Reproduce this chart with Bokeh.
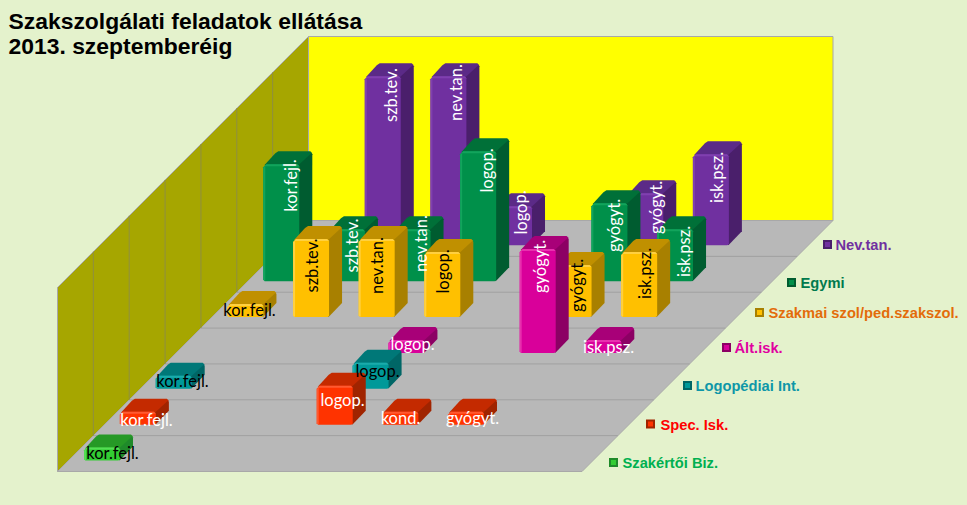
from math import pi
from bokeh.plotting import figure
from bokeh.models import Range1d, GlobalInlineStyleSheet
from bokeh.core.properties import value
from bokeh.embed import file_html
from bokeh.resources import INLINE

title_lines = ["Szakszolgálati feladatok ellátása", "2013. szeptemberéig"]
categories = ["kor.fejl.", "szb.tev.", "nev.tan.", "logop.", "kond.", "gyógyt.", "isk.psz.", ""]
series_names = ["Szakértői Biz.", "Spec. Isk.", "Logopédiai Int.", "Ált.isk.",
                "Szakmai szol/ped.szakszol.", "Egymi", "Nev.tan."]
szakertoi = [1, 0, 0, 0, 0, 0, 0, 0]
spec_isk = [1, 0, 0, 3, 1, 1, 0, 0]
logopediai = [1, 0, 0, 2, 0, 0, 0, 0]
alt_isk = [0, 0, 0, 1, 0, 8, 1, 0]
szakmai = [1, 6, 6, 5, 0, 4, 5, 0]
egymi = [9, 4, 4, 10, 0, 6, 4, 0]
nev_tan = [0, 13, 13, 3, 0, 4, 7, 0]
series_values = [szakertoi, spec_isk, logopediai, alt_isk, szakmai, egymi, nev_tan]

# styles: front, highlight, top, side, label colour, legend text colour
styles = [
    ("#33CC33", "#55DD55", "#269926", "#1F8A2A", "#000000", "#00B050"),
    ("#FF3300", "#FF5A30", "#C42A00", "#A02400", "#FFFFFF", "#FF0000"),
    ("#009999", "#1AABAB", "#007878", "#006666", "#000000", "#0E97A8"),
    ("#D9009A", "#E830AE", "#A80078", "#8C0064", "#FFFFFF", "#E000A0"),
    ("#FFC000", "#FFD040", "#C09000", "#A88000", "#000000", "#E36C0A"),
    ("#00904A", "#12A45C", "#007038", "#005C30", "#FFFFFF", "#007A4D"),
    ("#7030A0", "#8040B0", "#5B2A87", "#4A1F6B", "#FFFFFF", "#7030A0"),
]

# projection layout (oblique): pixels of the picture
OX, OY = 57.0, 471.0
FLOOR_W = 524.5
CELL = 525.0 / len(categories)
ROW = 251.0 / len(series_names)
UNIT = 13.0
WALL_H = 184.0
BAR_W, BAR_D = 36.0, 13.0
INSET_X, INSET_D = 15.5, 11.0


def project(c, r, v, dx=0.0, dd=0.0):
    """category position c, series position r, value v -> page position"""
    d = r * ROW + dd
    return OX + c * CELL + d + dx, OY - d - v * UNIT


p = figure(width=967, height=505, x_range=Range1d(0, 967), y_range=Range1d(505, 0),
           output_backend="svg", toolbar_location=None, min_border=0,
           background_fill_color="#E4F2CC", border_fill_color="#E4F2CC", outline_line_color=None,
           x_axis_type=None, y_axis_type=None)
p.grid.visible = False
p.stylesheets = [GlobalInlineStyleSheet(css="html,body{background:#E4F2CC;margin:0;overflow:hidden;}")]

depth = ROW * len(series_names)
# walls and floor
wall_xs = [[OX + depth, OX + depth + FLOOR_W, OX + depth + FLOOR_W, OX + depth],
           [OX, OX + depth, OX + depth, OX],
           [OX, OX + FLOOR_W, OX + FLOOR_W + depth, OX + depth]]
wall_ys = [[OY - depth - WALL_H, OY - depth - WALL_H, OY - depth, OY - depth],
           [OY - WALL_H, OY - depth - WALL_H, OY - depth, OY],
           [OY, OY, OY - depth, OY - depth]]
p.patches(wall_xs, wall_ys, fill_color=["#FFFF00", "#A6A600", "#B8B8B8"],
          line_color="#A8A8A8", line_width=1)
# gridlines
gx = [[OX + k * ROW, OX + FLOOR_W + k * ROW] for k in range(1, len(series_names))]
gy = [[OY - k * ROW, OY - k * ROW] for k in range(1, len(series_names))]
p.multi_line(gx, gy, line_color="#A0A0A0", line_width=1)
gx = [[OX + k * ROW, OX + k * ROW] for k in range(1, len(series_names))]
gy = [[OY - k * ROW, OY - k * ROW - WALL_H] for k in range(1, len(series_names))]
p.multi_line(gx, gy, line_color="#8F8F40", line_width=1)

# bars
fx, fy, fc = [], [], []


def add(poly, col):
    fx.append([q[0] for q in poly])
    fy.append([q[1] for q in poly])
    fc.append(col)


for r in range(len(series_names) - 1, -1, -1):
    front, light, top, side, _, _ = styles[r]
    for c, v in enumerate(series_values[r]):
        if not v:
            continue
        x0, y0 = project(c, r, 0, INSET_X, INSET_D)
        h = v * UNIT
        x1 = x0 + BAR_W
        t = y0 - h
        d = BAR_D
        add([(x0 + 1, t + 1), (x0 + d - 1, t - d + 2), (x0 + d + 2, t - d), (x1 + d - 2, t - d),
             (x1 + d, t - d + 2), (x1 + 1, t + 1)], top)
        add([(x1 - 1, t + 1), (x1 + d - 1, t - d + 2), (x1 + d, t - d + 3), (x1 + d, y0 - d - 1),
             (x1, y0 - 0.5), (x1 - 1, y0)], side)
        add([(x0, t + 3), (x0 + 3, t), (x1 - 2, t), (x1, t + 2), (x1, y0 - 1.5), (x1 - 1.5, y0),
             (x0 + 1.5, y0), (x0, y0 - 1.5)], front)
        add([(x0, t + 3), (x0 + 3, t), (x1 - 2, t), (x1, t + 2), (x1 - 2, t + 2), (x0 + 2, t + 2)], light)
        add([(x0, t + 3), (x0 + 2, t + 2), (x0 + 2, y0 - 1), (x0 + 1.5, y0), (x0, y0 - 1.5)], light)
p.patches(fx, fy, fill_color=fc, line_color=None)

# data labels: (series, category) -> centre on the page
label_at = {
    (6, 1): (390, 94.5), (6, 2): (455, 92), (6, 3): (520, 212), (6, 5): (655, 207), (6, 6): (716, 177),
    (5, 0): (290, 185), (5, 1): (351, 245), (5, 2): (420, 243), (5, 3): (486, 170), (5, 5): (613, 225),
    (5, 6): (683, 251),
    (4, 1): (311, 265), (4, 2): (376, 265), (4, 3): (442, 271), (4, 5): (576, 285), (4, 6): (644, 273),
    (3, 5): (539, 266),
    (4, 0): (249, 309), (3, 3): (412, 343), (3, 6): (608, 346), (2, 0): (182, 380), (2, 3): (377, 370),
    (1, 0): (146, 419), (1, 3): (342, 399), (1, 4): (400, 417), (1, 5): (472, 417), (0, 0): (112, 452),
}
tx, ty, tt, tc, ta = [], [], [], [], []
for r, vals in enumerate(series_values):
    for c, v in enumerate(vals):
        if not v:
            continue
        lx, ly = label_at[(r, c)]
        tx.append(lx)
        ty.append(ly)
        tt.append(categories[c])
        tc.append(styles[r][4])
        ta.append(pi / 2 if v >= 3 and r not in (1, 2) else 0.0)
p.text(x=tx, y=ty, text=tt, text_color=tc, angle=ta, text_align="center", text_baseline="middle",
       text_font=value("Lato"), text_font_size="16.5px")

# legend
legend_marker = [(613, 462), (650, 423.5), (687, 385), (726, 347), (759, 312), (791, 282), (827, 244)]
legend_text_x = [622, 660, 695, 734, 768, 800, 835]
mx = [q[0] for q in legend_marker]
my = [q[1] for q in legend_marker]
p.rect(mx, my, width=9, height=9, width_units="screen", height_units="screen",
       fill_color=[s[3] for s in styles], line_color=None)
p.rect(mx, my, width=5, height=5, width_units="screen", height_units="screen",
       fill_color=[s[0] for s in styles], line_color=None)
p.text(x=legend_text_x, y=[m + 0.5 for m in my], text=series_names, text_color=[s[5] for s in styles],
       text_align="left", text_baseline="middle", text_font=value("Liberation Sans"),
       text_font_style="bold", text_font_size="14.7px")

# title
p.text(x=[8, 8], y=[20, 45], text=title_lines, text_color="#000000", text_align="left",
       text_baseline="middle", text_font=value("Liberation Sans"), text_font_style="bold",
       text_font_size="22.9px")

open("out.html", "w").write(file_html(p, INLINE))
